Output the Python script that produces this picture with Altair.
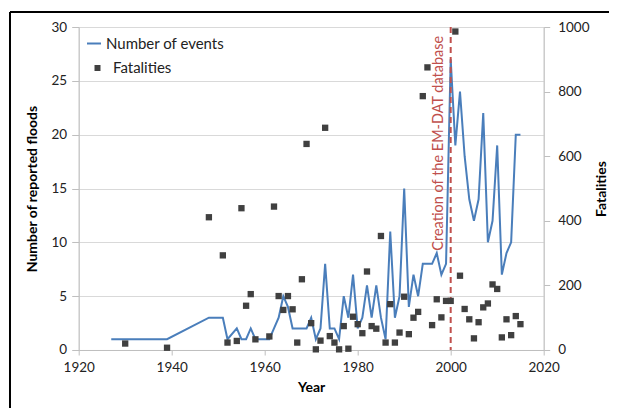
import altair as alt
import pandas as pd

# ---- data ----
event_years = [1927, 1939, 1948, 1951, 1952, 1954, 1955, 1956, 1957, 1958, 1961, 1962,
               1963, 1964, 1965, 1966, 1967, 1968, 1969, 1970, 1971, 1972, 1973, 1974,
               1975, 1976, 1977, 1978, 1979, 1980, 1981, 1982, 1983, 1984, 1985, 1986,
               1987, 1988, 1989, 1990, 1991, 1992, 1993, 1994, 1995, 1996, 1997, 1998,
               1999, 2000, 2001, 2002, 2003, 2004, 2005, 2006, 2007, 2008, 2009, 2010,
               2011, 2012, 2013, 2014, 2015]
events = [1, 1, 3, 3, 1, 2, 1, 1, 2, 1, 1, 2,
          3, 5, 4, 2, 2, 2, 2, 3, 1, 2, 8, 2,
          2, 1, 5, 3, 7, 2, 3, 6, 3, 6, 3, 1,
          11, 3, 5, 15, 4, 7, 5, 8, 8, 8, 9, 7,
          8, 27, 19, 24, 18, 14, 12, 14, 22, 10, 12, 19,
          7, 9, 10, 20, 20]

fat_years = [1930, 1939, 1948, 1951, 1952, 1954, 1955, 1956, 1957, 1958, 1961, 1962,
             1963, 1964, 1965, 1966, 1967, 1968, 1969, 1970, 1971, 1972, 1973, 1974,
             1975, 1976, 1977, 1978, 1979, 1980, 1981, 1982, 1983, 1984, 1985, 1986,
             1987, 1988, 1989, 1990, 1991, 1992, 1993, 1994, 1995, 1996, 1997, 1998,
             1999, 2000, 2001, 2002, 2003, 2004, 2005, 2006, 2007, 2008, 2009, 2010,
             2011, 2012, 2013, 2014, 2015]
fatalities = [20, 7, 411, 293, 23, 28, 439, 137, 173, 33, 42, 444,
              167, 124, 167, 126, 23, 219, 638, 83, 2, 29, 688, 43,
              23, 2, 74, 4, 103, 80, 52, 243, 74, 66, 353, 23,
              142, 23, 54, 165, 49, 100, 118, 786, 875, 77, 157, 101,
              152, 152, 986, 230, 127, 95, 36, 86, 132, 144, 203, 189,
              39, 95, 46, 105, 80]

x_ticks = [1920, 1940, 1960, 1980, 2000, 2020]
left_ticks = [0, 5, 10, 15, 20, 25, 30]
right_ticks = [0, 200, 400, 600, 800, 1000]

marker_year = 2000
marker_text = "Creation of the EM-DAT database"
marker_text_level = 19.2

ev_df = pd.DataFrame({"Year": event_years, "events": events, "series": "Number of events"})
fat_df = pd.DataFrame({"Year": fat_years, "fatalities": fatalities, "kind": "Fatalities"})
mark_df = pd.DataFrame({"Year": [marker_year], "lvl": [marker_text_level], "txt": [marker_text]})

BLUE = "#4A7EBB"
RED = "#C0504D"
GREY = "#404040"
FONT = "Lato"

xscale = alt.Scale(domain=[1920, 2020], nice=False, zero=False)
xaxis = alt.Axis(values=x_ticks, format="d", title="Year", grid=False,
                 tickSize=5, tickColor="#BFBFBF", domainColor="#BFBFBF",
                 labelPadding=6, labelFontSize=13.5, labelColor="#222",
                 titleFontSize=14, titleFontWeight="bold", titlePadding=6,
                 labelFlush=False)
lscale = alt.Scale(domain=[0, 30], nice=False)

line = alt.Chart(ev_df).mark_line(color=BLUE, strokeWidth=2).encode(
    x=alt.X("Year:Q", scale=xscale, axis=xaxis),
    y=alt.Y("events:Q", scale=lscale,
            axis=alt.Axis(values=left_ticks, title="Number of reported floods",
                          grid=True, gridColor="#D9D9D9", tickSize=7,
                          tickColor="#BFBFBF", domainColor="#BFBFBF",
                          labelPadding=5, labelFontSize=13.5, labelColor="#222",
                          titleFontSize=14, titleFontWeight="bold", titlePadding=12)),
    color=alt.Color("series:N",
                    scale=alt.Scale(domain=["Number of events"], range=[BLUE]),
                    legend=alt.Legend(orient="none", legendX=7.3, legendY=8.5, title=None,
                                      symbolType="stroke", symbolSize=196,
                                      symbolStrokeWidth=2, labelFontSize=15,
                                      labelOffset=4, labelColor="#222", padding=0)),
)

rule = alt.Chart(mark_df).mark_rule(color=RED, strokeWidth=2, strokeDash=[6, 4]).encode(
    x=alt.X("Year:Q", scale=xscale),
)

label = alt.Chart(mark_df).mark_text(color=RED, angle=270, fontSize=14.5, dy=-12,
                                     align="center", baseline="middle", font=FONT).encode(
    x=alt.X("Year:Q", scale=xscale),
    y=alt.Y("lvl:Q", scale=lscale),
    text="txt:N",
)

points = alt.Chart(fat_df).mark_point(shape="square", filled=True, size=40,
                                      color=GREY, opacity=1).encode(
    x=alt.X("Year:Q", scale=xscale),
    y=alt.Y("fatalities:Q", scale=alt.Scale(domain=[0, 1000], nice=False),
            axis=alt.Axis(orient="right", values=right_ticks, format="d",
                          title="Fatalities",
                          grid=False, tickSize=6, tickColor="#BFBFBF",
                          domainColor="#BFBFBF", labelPadding=8, labelFontSize=13.5,
                          labelColor="#222", titleFontSize=14, titleFontWeight="bold",
                          titleAngle=270, titlePadding=19)),
    shape=alt.Shape("kind:N", scale=alt.Scale(domain=["Fatalities"], range=["square"]),
                    legend=alt.Legend(orient="none", legendX=11.3, legendY=33.5, title=None,
                                      symbolSize=36, symbolFillColor=GREY,
                                      symbolStrokeColor=GREY, labelFontSize=15,
                                      labelOffset=8, labelColor="#222", padding=0)),
)

# outer chart-area frame
frame_top = alt.Chart(mark_df).mark_rule(color="black", strokeWidth=2).encode(
    x=alt.value(-68.7), x2=alt.value(560), y=alt.value(-15))
frame_left = alt.Chart(mark_df).mark_rule(color="black", strokeWidth=2).encode(
    x=alt.value(-68.7), y=alt.value(-15), y2=alt.value(400))

left_layer = alt.layer(line, rule, label, frame_top, frame_left)

chart = alt.layer(left_layer, points).resolve_scale(
    y="independent", color="independent", shape="independent"
).properties(
    width=465, height=323,
    padding={"left": 70.7, "top": 19, "right": 65, "bottom": 58},
    autosize=alt.AutoSizeParams(type="none"),
).configure_view(stroke=None).configure(font=FONT)

chart.save("out.html", embed_options={"renderer": "svg", "actions": False})
